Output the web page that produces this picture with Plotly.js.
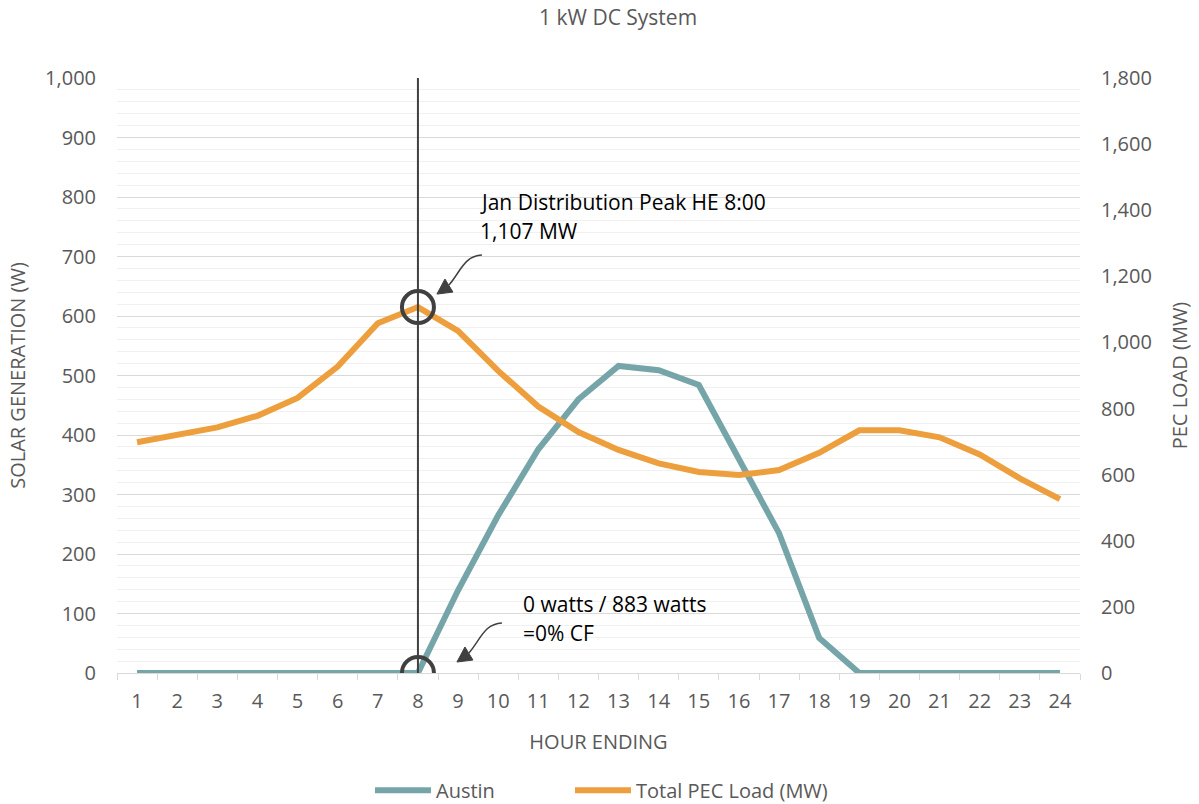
<!DOCTYPE html>
<html>
<head>
<meta charset="utf-8">
<script src="https://cdn.plot.ly/plotly-3.0.1.min.js"></script>
<style>html,body{margin:0;padding:0;background:#fff}#chart{width:1199px;height:804px}</style>
</head>
<body>
<div id="chart"></div>
<script>
const hours = ["1","2","3","4","5","6","7","8","9","10","11","12","13","14","15","16","17","18","19","20","21","22","23","24"];
const austinW = [0,0,0,0,0,0,0,0,139,265,376,460,516,509,484,358,235,59,0,0,0,0,0,0];
const pecLoadMW = [698,720,743,778,832,927,1058,1107,1035,914,806,729,675,634,608,599,614,666,734,734,713,661,589,526];
const peakHour = "8";
const peakLoad = 1107;
const peakSolar = 0;
const peakLabel1 = "Jan Distribution Peak HE 8:00";
const peakLabel2 = "1,107 MW";
const cfLabel1 = "0 watts / 883 watts";
const cfLabel2 = "=0% CF";

const FONT = "Open Sans, sans-serif";
const GRAY = "#595959";
const DARK = "#404040";
const peakIdx = hours.indexOf(peakHour);

function arrowShapes(yref, yval, dx, dy) {
  const curve = `M ${64+dx} ${52+dy} C ${46+dx} ${51+dy} ${43+dx} ${36+dy} ${31+dx} ${22+dy}`;
  const head = `M ${19+dx} ${13+dy} L ${35+dx} ${15+dy} L ${27+dx} ${28+dy} Z`;
  const common = {xref:"x", yref:yref, xsizemode:"pixel", ysizemode:"pixel", xanchor:peakIdx, yanchor:yval};
  return [
    Object.assign({type:"path", path:curve, line:{color:DARK, width:1.5}}, common),
    Object.assign({type:"path", path:head, fillcolor:DARK, line:{color:DARK, width:1}}, common)
  ];
}

const traces = [
  {x:hours, y:austinW, name:"Austin", type:"scatter", mode:"lines",
   line:{color:"#76A5A9", width:6}, yaxis:"y", legend:"legend"},
  {x:hours, y:pecLoadMW, name:"Total PEC Load (MW)", type:"scatter", mode:"lines",
   line:{color:"#EE9F3D", width:6}, yaxis:"y2", legend:"legend2"}
];

const shapes = [
  {type:"line", xref:"x", yref:"paper", x0:peakIdx, x1:peakIdx, y0:0, y1:1, line:{color:DARK, width:2}},
  {type:"circle", xref:"x", yref:"y2", xsizemode:"pixel", ysizemode:"pixel", xanchor:peakIdx, yanchor:peakLoad,
   x0:-16, x1:16, y0:-16, y1:16, line:{color:DARK, width:4}},
  {type:"circle", xref:"x", yref:"y", xsizemode:"pixel", ysizemode:"pixel", xanchor:peakIdx, yanchor:peakSolar,
   x0:-16, x1:16, y0:-16, y1:16, line:{color:DARK, width:4}},
  ...arrowShapes("y2", peakLoad, 0, 0),
  ...arrowShapes("y", peakSolar, 20, -2)
];

const annFont = {family:FONT, size:21, color:"#000"};
const annotations = [
  {xref:"x", yref:"y2", x:peakIdx, y:peakLoad, text:peakLabel1, showarrow:false, xanchor:"left", yanchor:"middle", xshift:60, yshift:105, font:annFont},
  {xref:"x", yref:"y2", x:peakIdx, y:peakLoad, text:peakLabel2, showarrow:false, xanchor:"left", yanchor:"middle", xshift:60, yshift:76, font:annFont},
  {xref:"x", yref:"y", x:peakIdx, y:peakSolar, text:cfLabel1, showarrow:false, xanchor:"left", yanchor:"middle", xshift:103, yshift:69, font:annFont},
  {xref:"x", yref:"y", x:peakIdx, y:peakSolar, text:cfLabel2, showarrow:false, xanchor:"left", yanchor:"middle", xshift:103, yshift:40, font:annFont}
];

const legendBase = {orientation:"h", y:-0.23, yanchor:"bottom", xanchor:"left", itemwidth:56,
                    font:{family:FONT, size:20, color:GRAY}, bgcolor:"rgba(0,0,0,0)"};

const layout = {
  width:1199, height:804,
  paper_bgcolor:"#fff", plot_bgcolor:"#fff",
  margin:{l:117, r:119, t:78, b:131, autoexpand:false},
  font:{family:FONT, color:GRAY},
  title:{text:"1 kW DC System", font:{family:FONT, size:21, color:GRAY}, x:0.5155, xanchor:"center", y:0.978, yanchor:"middle"},
  showlegend:true,
  legend:Object.assign({x:0.2627}, legendBase),
  legend2:Object.assign({x:0.4704}, legendBase),
  xaxis:{type:"category", range:[-0.5, 23.5], tickson:"boundaries", ticks:"outside", ticklen:6, tickcolor:"#d9d9d9",
         showline:true, linecolor:"#d9d9d9", linewidth:1, showgrid:false, zeroline:false, ticklabelstandoff:10,
         tickfont:{family:FONT, size:20, color:GRAY},
         title:{text:"HOUR ENDING", font:{family:FONT, size:20, color:GRAY}, standoff:21}},
  yaxis:{range:[0,1000], dtick:100, tickformat:",d", showgrid:true, gridcolor:"#d9d9d9", gridwidth:1, zeroline:false,
         minor:{dtick:20, showgrid:true, gridcolor:"#f0f0f0", gridwidth:1}, ticklabelstandoff:20,
         tickfont:{family:FONT, size:20, color:GRAY}, ticks:"",
         title:{text:"SOLAR GENERATION (W)", font:{family:FONT, size:20, color:GRAY}, standoff:14}},
  yaxis2:{range:[0,1800], dtick:200, tickformat:",d", overlaying:"y", side:"right", showgrid:false, zeroline:false,
         ticklabelstandoff:20,
         tickfont:{family:FONT, size:20, color:GRAY}, ticks:"",
         title:{text:"PEC LOAD (MW)", font:{family:FONT, size:20, color:GRAY}, standoff:22}},
  shapes:shapes,
  annotations:annotations
};

Plotly.newPlot("chart", traces, layout, {displayModeBar:false, staticPlot:true});
</script>
</body>
</html>
